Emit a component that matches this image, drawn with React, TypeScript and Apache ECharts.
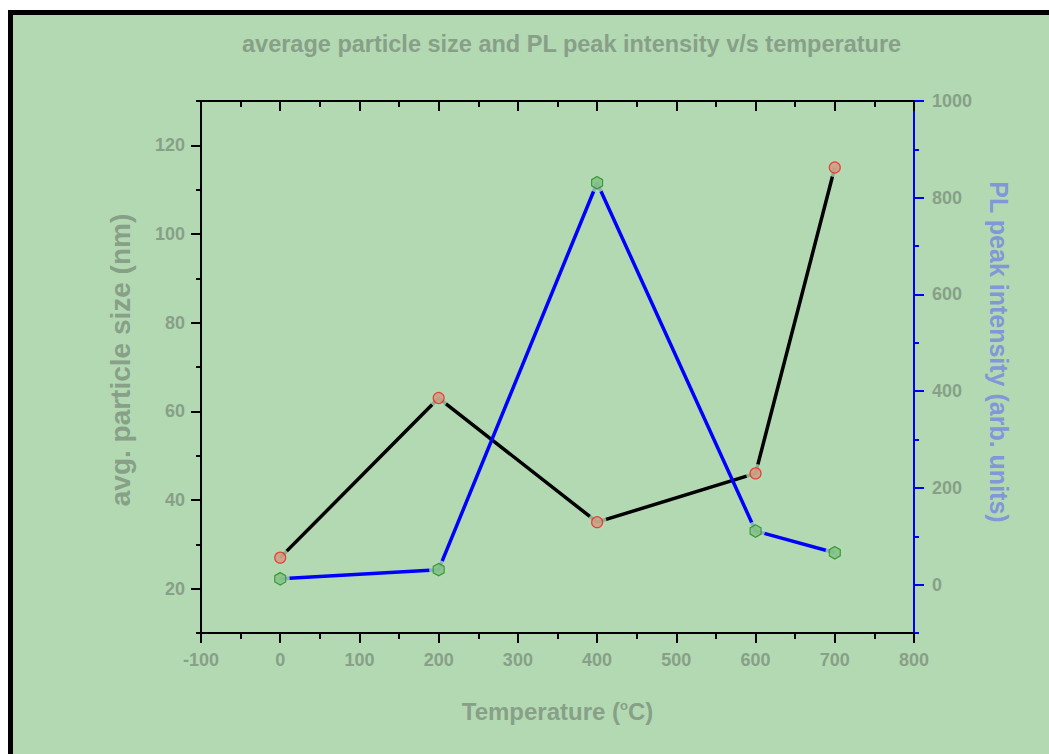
import React, { useEffect, useRef } from "react";
import * as echarts from "echarts";

const temperatures = [0, 200, 400, 600, 700];
const particleSize = [27, 63, 35, 46, 115];
const plIntensity = [12, 31, 831, 111, 66];
const leftMajor = [20, 40, 60, 80, 100, 120];
const leftMinor = [10, 30, 50, 70, 90, 110, 130];
const rightMajor = [0, 200, 400, 600, 800, 1000];
const rightMinor = [-100, 100, 300, 500, 700, 900];

const BG = "#b3d9b3";
const TXT = "#87a087";
const FONT = "'Liberation Sans', Arial, sans-serif";
const HEX = "path://M0,-1 L0.866,-0.5 L0.866,0.5 L0,1 L-0.866,0.5 L-0.866,-0.5 Z";

export default function App() {
  const ref = useRef<HTMLDivElement>(null);
  useEffect(() => {
    if (!ref.current) return;
    const chart = echarts.init(ref.current, undefined, { renderer: "svg" });
    const ps = temperatures.map((t, i) => [t, particleSize[i]]);
    const pl = temperatures.map((t, i) => [t, plIntensity[i]]);
    const label = {
      fontSize: 18,
      fontWeight: "bold",
      color: TXT,
      fontFamily: FONT,
      formatter: (v: number) => String(v),
    };
    const blk = { color: "#000", width: 2 };
    const blue = { color: "#0000ff", width: 2 };
    chart.setOption({
      animation: false,
      backgroundColor: "transparent",
      textStyle: { fontFamily: FONT },
      title: {
        text: "average particle size and PL peak intensity v/s temperature",
        left: 237,
        top: 27,
        textStyle: { fontSize: 23.5, fontWeight: "bold", color: TXT, fontFamily: FONT },
      },
      grid: { left: 201, right: 135, top: 101, bottom: 121 },
      xAxis: [
        {
          type: "value",
          position: "bottom",
          min: -100,
          max: 800,
          interval: 100,
          axisLine: { onZero: false, lineStyle: blk },
          axisTick: { length: 10, lineStyle: blk },
          minorTick: { show: true, splitNumber: 2, length: 6, lineStyle: blk },
          axisLabel: { ...label, margin: 18 },
          splitLine: { show: false },
          name: "{a|Temperature (}{s|o}{a|C)}",
          nameLocation: "middle",
          nameGap: 66,
          nameTextStyle: {
            rich: {
              a: { fontSize: 24, fontWeight: "bold", color: TXT, fontFamily: FONT },
              s: { fontSize: 13, fontWeight: "bold", color: TXT, fontFamily: FONT, padding: [0, 0, 12, 0] },
            },
          },
        },
        {
          type: "value",
          position: "top",
          min: -100,
          max: 800,
          interval: 100,
          axisLine: { onZero: false, lineStyle: blk },
          axisTick: { inside: true, length: 10, lineStyle: blk },
          minorTick: { show: true, splitNumber: 2, length: 6, lineStyle: blk },
          axisLabel: { show: false },
          splitLine: { show: false },
        },
      ],
      yAxis: [
        {
          type: "value",
          position: "left",
          min: 10,
          max: 130,
          axisLine: { show: true, onZero: false, lineStyle: blk },
          axisTick: { show: true, length: 10, lineStyle: blk, customValues: leftMajor },
          axisLabel: { ...label, margin: 16, customValues: leftMajor },
          splitLine: { show: false },
          name: "avg. particle size (nm)",
          nameLocation: "middle",
          nameRotate: 90,
          nameGap: 67,
          nameTextStyle: {
            fontSize: 28,
            fontWeight: "bold",
            color: TXT,
            fontFamily: FONT,
            padding: [0, 0, 0, 14],
          },
        },
        {
          type: "value",
          position: "right",
          min: -100,
          max: 1000,
          axisLine: { show: true, onZero: false, lineStyle: blue },
          axisTick: { show: true, length: 10, lineStyle: blue, customValues: rightMajor },
          axisLabel: { ...label, margin: 18, customValues: rightMajor },
          splitLine: { show: false },
          name: "PL peak intensity (arb. units)",
          nameLocation: "middle",
          nameRotate: -90,
          nameGap: 72,
          nameTextStyle: {
            fontSize: 25,
            fontWeight: "bold",
            color: "#8097d8",
            fontFamily: FONT,
            padding: [0, 30, 0, 0],
          },
        },
        {
          type: "value",
          position: "left",
          min: 10,
          max: 130,
          axisLine: { show: false, onZero: false },
          axisTick: { show: true, length: 5, lineStyle: blk, customValues: leftMinor },
          axisLabel: { show: false },
          splitLine: { show: false },
        },
        {
          type: "value",
          position: "right",
          min: -100,
          max: 1000,
          axisLine: { show: false, onZero: false },
          axisTick: { show: true, length: 5, lineStyle: blue, customValues: rightMinor },
          axisLabel: { show: false },
          splitLine: { show: false },
        },
      ],
      series: [
        {
          type: "line",
          data: ps,
          xAxisIndex: 0,
          yAxisIndex: 0,
          symbol: "none",
          lineStyle: { color: "#000", width: 3.5 },
          z: 2,
        },
        {
          type: "line",
          data: pl,
          xAxisIndex: 0,
          yAxisIndex: 1,
          symbol: "none",
          lineStyle: { color: "#0000ff", width: 3.5 },
          z: 2,
        },
        {
          type: "scatter",
          data: ps,
          xAxisIndex: 0,
          yAxisIndex: 0,
          symbol: "circle",
          symbolSize: 19,
          itemStyle: { color: BG },
          silent: true,
          z: 3,
        },
        {
          type: "scatter",
          data: pl,
          xAxisIndex: 0,
          yAxisIndex: 1,
          symbol: "circle",
          symbolSize: 19,
          itemStyle: { color: BG },
          silent: true,
          z: 3,
        },
        {
          type: "scatter",
          data: ps,
          xAxisIndex: 0,
          yAxisIndex: 0,
          symbol: "circle",
          symbolSize: 11,
          itemStyle: { color: "#d09a80", borderColor: "#ee2222", borderWidth: 1.2 },
          z: 4,
        },
        {
          type: "scatter",
          data: pl,
          xAxisIndex: 0,
          yAxisIndex: 1,
          symbol: HEX,
          symbolSize: [11, 12.5],
          itemStyle: { color: "#80c080", borderColor: "#1e8c1e", borderWidth: 1.2 },
          z: 4,
        },
      ],
    });
    return () => chart.dispose();
  }, []);

  return (
    <div style={{ position: "fixed", left: 0, top: 0, width: 1049, height: 754, background: "#fff", overflow: "hidden" }}>
      <div
        style={{
          position: "absolute",
          left: 8,
          top: 10,
          width: 1100,
          height: 800,
          background: BG,
          borderLeft: "5px solid #000",
          borderTop: "5px solid #000",
        }}
      />
      <div ref={ref} style={{ position: "absolute", left: 0, top: 0, width: 1049, height: 754 }} />
    </div>
  );
}
